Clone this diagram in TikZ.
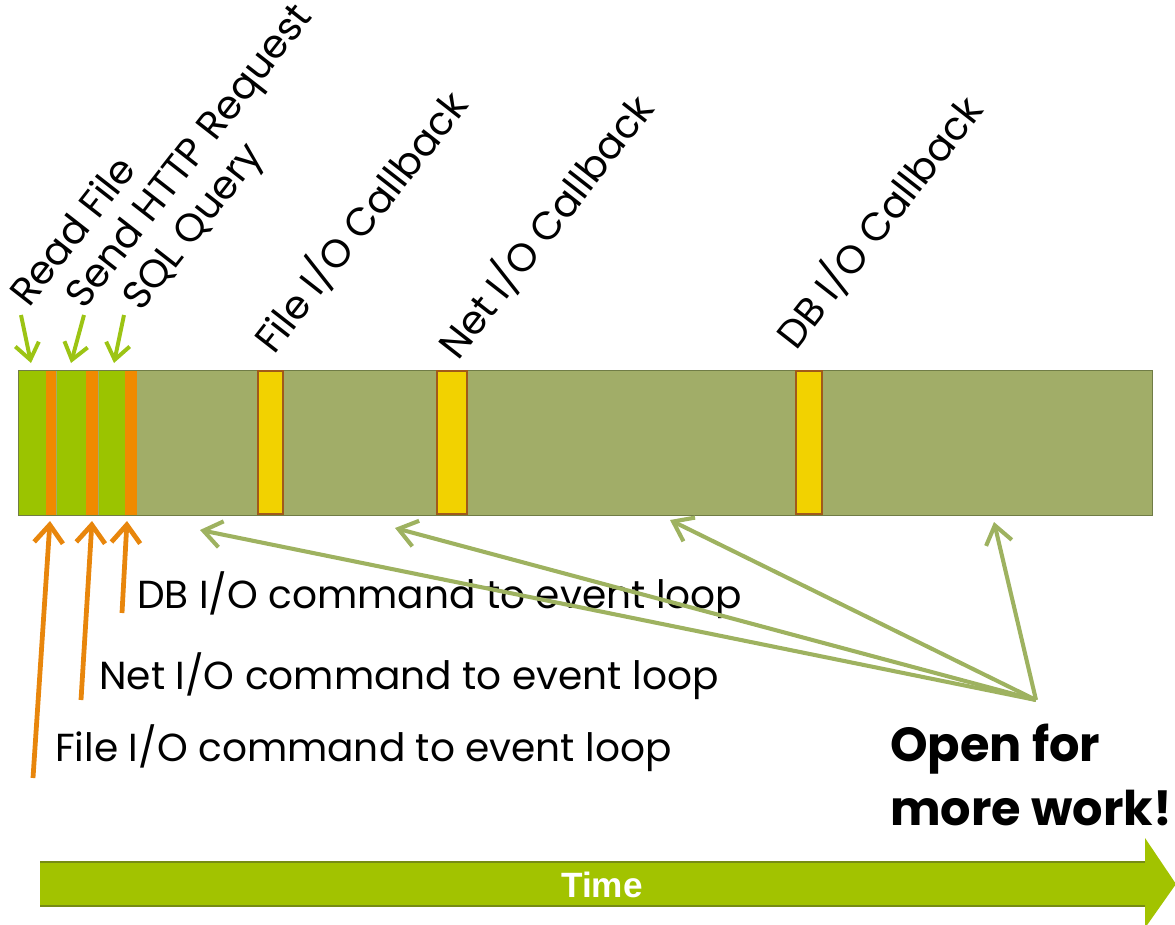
\documentclass[tikz,border=0pt]{standalone}
\usepackage{fontspec}
\setmainfont{Poppins}
\newfontfamily\timefont{Liberation Sans}
\usetikzlibrary{arrows.meta}

\definecolor{barolive}{RGB}{161,173,104}
\definecolor{bargreen}{RGB}{155,196,0}
\definecolor{barorange}{RGB}{240,138,0}
\definecolor{baryellow}{RGB}{242,210,0}
\definecolor{yellowline}{RGB}{160,90,26}
\definecolor{barline}{RGB}{112,124,70}
\definecolor{workarrow}{RGB}{158,178,96}
\definecolor{cmdarrow}{RGB}{232,134,12}
\definecolor{callarrow}{RGB}{156,196,20}
\definecolor{timegreen}{RGB}{162,195,0}
\definecolor{timeline}{RGB}{118,140,20}

\tikzset{
    slice/.style={line width=0.5pt},
    tick/.style={fill=baryellow,draw=yellowline,line width=1.2pt},
    calllbl/.style={anchor=base west,rotate=52,inner sep=0pt,
        font=\fontsize{28}{32}\selectfont},
    cmdlbl/.style={anchor=base west,inner sep=0pt,
        font=\fontsize{27.8}{32}\selectfont},
    callin/.style={callarrow,line width=2.8pt,
        -{Straight Barb[length=0.4cm,width=0.6cm]}},
    cmdout/.style={cmdarrow,line width=3.4pt,
        -{Straight Barb[length=0.45cm,width=0.72cm]}},
    freeup/.style={workarrow,line width=2.9pt,
        -{Straight Barb[length=0.45cm,width=0.66cm]}},
}

\begin{document}
\begin{tikzpicture}[x=0.025cm,y=-0.025cm]
    \useasboundingbox (0,0) rectangle (1175,925);

    % the bar
    \fill[barolive] (18,370) rectangle (1152,515);
    \fill[bargreen] (18,370) rectangle (46,515);
    \fill[bargreen] (57,370) rectangle (86,515);
    \fill[bargreen] (99,370) rectangle (125,515);
    \fill[barorange] (46,370) rectangle (56,515);
    \fill[barorange] (86,370) rectangle (98,515);
    \fill[barorange] (125,370) rectangle (137,515);
    \draw[barline,slice] (18,370) rectangle (1152,515);
    \draw[tick] (258,371) rectangle (283,514);
    \draw[tick] (437,371) rectangle (467,514);
    \draw[tick] (796,371) rectangle (822,514);

    % labels above
    \node[calllbl] (read) at (29,309) {Read File};
    \node[calllbl] (http) at (84,311) {Send HTTP Request};
    \node[calllbl] (sql) at (141,313) {SQL Query};
    \node[calllbl] (filecb) at (274,356) {File I/O Callback};
    \node[calllbl] (netcb) at (458,362) {Net I/O Callback};
    \node[calllbl] (dbcb) at (796,352) {DB I/O Callback};

    \coordinate (r0) at (21,315);  \coordinate (r1) at (31,363);
    \coordinate (h0) at (84,315);  \coordinate (h1) at (71,363);
    \coordinate (s0) at (124,315); \coordinate (s1) at (114,363);
    \draw[callin] (r0) -- (r1);
    \draw[callin] (h0) -- (h1);
    \draw[callin] (s0) -- (s1);

    % labels below
    \node[cmdlbl] (dbcmd) at (137,608) {DB I/O command to event loop};
    \node[cmdlbl] (netcmd) at (99,689) {Net I/O command to event loop};
    \node[cmdlbl] (filecmd) at (55,761) {File I/O command to event loop};

    \coordinate (f0) at (33,778);  \coordinate (f1) at (50,521);
    \coordinate (n0) at (81,700);  \coordinate (n1) at (92,521);
    \coordinate (d0) at (122,613); \coordinate (d1) at (127,521);
    \draw[cmdout] (f0) -- (f1);
    \draw[cmdout] (n0) -- (n1);
    \draw[cmdout] (d0) -- (d1);

    % free time
    \node[anchor=north west,inner sep=0pt,align=left,
        font=\fontsize{34}{45}\selectfont\bfseries] (open) at (890,724)
        {Open for\\more work!};
    \coordinate (hub) at (1036,700);
    \coordinate (w1) at (200,530);
    \coordinate (w2) at (395,528);
    \coordinate (w3) at (670,520);
    \coordinate (w4) at (994,522);
    \foreach \w in {w1,w2,w3,w4}
        \draw[freeup] (hub) -- (\w);

    % time axis
    \fill[timegreen] (40,862) -- (1145,862) -- (1145,838) -- (1176,884)
        -- (1145,928) -- (1145,906) -- (40,906) -- cycle;
    \draw[timeline,line width=1.2pt] (40,862) -- (1145,862);
    \draw[timeline,line width=1.2pt] (40,906) -- (1145,906);
    \node[text=white,font=\timefont\fontsize{25}{30}\selectfont\bfseries]
        (time) at (602,885) {Time};
\end{tikzpicture}
\end{document}
